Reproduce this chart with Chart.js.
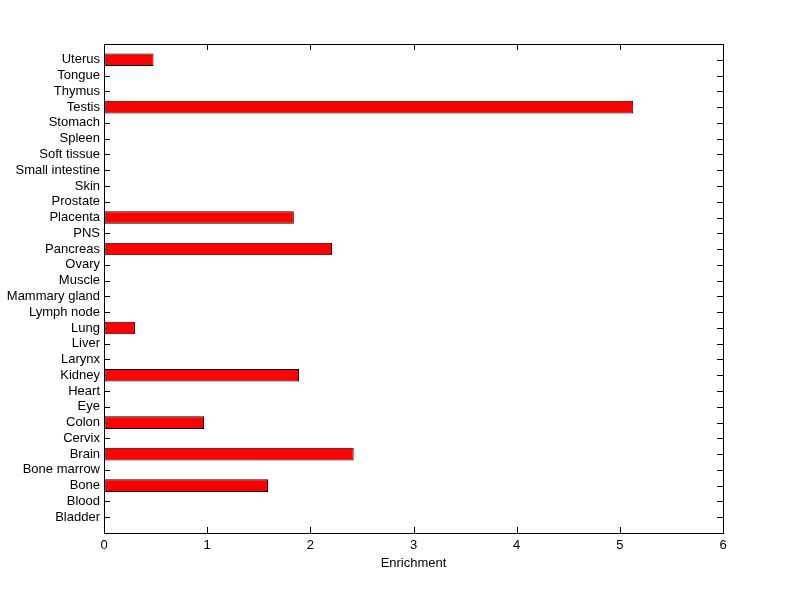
<!DOCTYPE html>
<html lang="en">
<head>
    <meta charset="UTF-8">
    <title>Enrichment</title>
    <script src="https://cdn.jsdelivr.net/npm/chart.js"></script>
    <style>
      body { margin: 0; background: #fff; }
      canvas { display: block; }
    </style>
</head>
<body>
    <canvas id="enrichChart" width="800" height="599"></canvas>
    <script>
        // bottom to top, same order as the y axis
        const tissues = ['Bladder', 'Blood', 'Bone', 'Bone marrow', 'Brain', 'Cervix', 'Colon', 'Eye', 'Heart',
            'Kidney', 'Larynx', 'Liver', 'Lung', 'Lymph node', 'Mammary gland', 'Muscle', 'Ovary', 'Pancreas',
            'PNS', 'Placenta', 'Prostate', 'Skin', 'Small intestine', 'Soft tissue', 'Spleen', 'Stomach',
            'Testis', 'Thymus', 'Tongue', 'Uterus'];
        const enrichment = [0, 0, 1.59, 0, 2.42, 0, 0.97, 0, 0,
            1.89, 0, 0, 0.30, 0, 0, 0, 0, 2.21,
            0, 1.84, 0, 0, 0, 0, 0, 0,
            5.13, 0, 0, 0.48];
        const xTicks = [0, 1, 2, 3, 4, 5, 6];

        const font = { family: 'Arial, "Liberation Sans", sans-serif', size: 13 };

        // MATLAB style box with inward tick marks (ticks go under the bars)
        const boxTicks = {
            id: 'boxTicks',
            beforeDatasetsDraw(chart) {
                const { ctx, chartArea: a, scales } = chart;
                ctx.save();
                ctx.strokeStyle = '#000';
                ctx.lineWidth = 1;
                ctx.beginPath();
                scales.y.ticks.forEach(t => {
                    const y = Math.round(scales.y.getPixelForValue(t.value)) + 0.5;
                    ctx.moveTo(a.left, y); ctx.lineTo(a.left + 6, y);
                    ctx.moveTo(a.right, y); ctx.lineTo(a.right - 6, y);
                });
                scales.x.ticks.forEach(t => {
                    const x = Math.round(scales.x.getPixelForValue(t.value)) + 0.5;
                    ctx.moveTo(x, a.bottom); ctx.lineTo(x, a.bottom - 6);
                    ctx.moveTo(x, a.top); ctx.lineTo(x, a.top + 6);
                });
                ctx.stroke();
                ctx.restore();
            },
            afterDraw(chart) {
                const { ctx, chartArea: a } = chart;
                ctx.save();
                ctx.strokeStyle = '#000';
                ctx.lineWidth = 1;
                ctx.strokeRect(Math.round(a.left) + 0.5, Math.round(a.top) + 0.5,
                    Math.round(a.right - a.left), Math.round(a.bottom - a.top));
                ctx.restore();
            }
        };

        const ctx = document.getElementById('enrichChart').getContext('2d');
        new Chart(ctx, {
            type: 'bar',
            data: {
                datasets: [{
                    data: enrichment.map((v, i) => ({ x: v, y: i + 1 })),
                    backgroundColor: '#ff0000',
                    borderColor: '#000000',
                    borderWidth: c => (c.raw && c.raw.x > 0 ? 1 : 0),
                    borderSkipped: false,
                    barPercentage: 0.8,
                    categoryPercentage: 1
                }]
            },
            plugins: [boxTicks],
            options: {
                indexAxis: 'y',
                responsive: false,
                animation: false,
                devicePixelRatio: 1,
                layout: { padding: { left: 0, top: 44, right: 77, bottom: 26 } },
                plugins: { legend: { display: false }, tooltip: { enabled: false } },
                scales: {
                    x: {
                        type: 'linear',
                        min: 0, max: 6,
                        afterBuildTicks: s => { s.ticks = xTicks.map(v => ({ value: v })); },
                        afterFit: s => { s.height = 40; },
                        grid: { drawOnChartArea: false, drawTicks: false },
                        border: { display: false },
                        ticks: { color: '#000', font, padding: 5 },
                        title: { display: true, text: 'Enrichment', color: '#000', font, padding: { top: 0, bottom: 2 } }
                    },
                    y: {
                        type: 'linear',
                        min: 0, max: 31,
                        offset: false,
                        afterBuildTicks: s => { s.ticks = tissues.map((_, i) => ({ value: i + 1 })); },
                        afterFit: s => { s.width = 104; },
                        grid: { drawOnChartArea: false, drawTicks: false, offset: false },
                        border: { display: false },
                        ticks: {
                            color: '#000', font, padding: 4, autoSkip: false,
                            callback: v => tissues[v - 1] || ''
                        }
                    }
                }
            }
        });
    </script>
</body>
</html>
